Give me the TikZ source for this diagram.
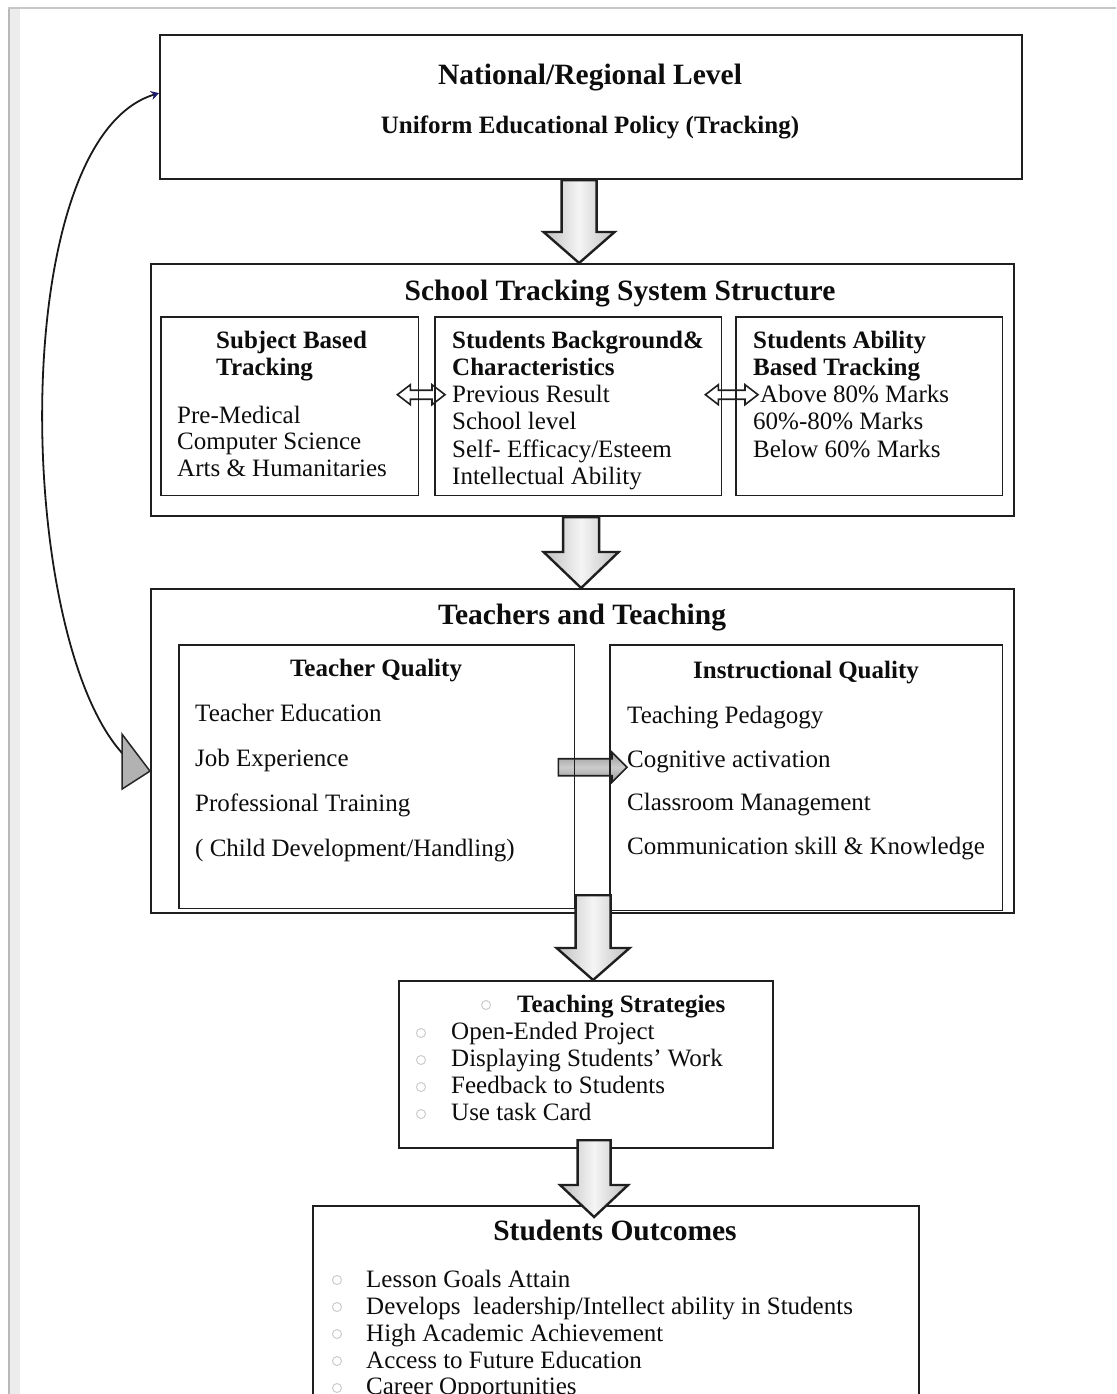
\documentclass[tikz,border=0pt]{standalone}
\usepackage{fontspec}
\setmainfont{Liberation Serif}
\usetikzlibrary{calc,arrows.meta}
\definecolor{navy}{RGB}{25,25,110}
\newcommand\blockdown[5]{% #1 top, #2 tip, #3 half shaft, #4 half head, #5 head length
  \path[blk] let \p1=(#1), \p2=(#2) in
   ({\x2-#3pt},\y1) -- ({\x2+#3pt},\y1) -- ({\x2+#3pt},{\y2+#5pt}) -- ({\x2+#4pt},{\y2+#5pt})
   -- (\x2,\y2) -- ({\x2-#4pt},{\y2+#5pt}) -- ({\x2-#3pt},{\y2+#5pt}) -- cycle;}
\newcommand\blockright[5]{% #1 start, #2 tip
  \path[hblk] let \p1=(#1), \p2=(#2) in
   (\x1,{\y2+#3pt}) -- ({\x2-#5pt},{\y2+#3pt}) -- ({\x2-#5pt},{\y2+#4pt}) -- (\x2,\y2)
   -- ({\x2-#5pt},{\y2-#4pt}) -- ({\x2-#5pt},{\y2-#3pt}) -- (\x1,{\y2-#3pt}) -- cycle;}
\newcommand\dblarrow[2]{%
  \path[hollow] let \p1=(#1), \p2=(#2) in
   (\x1,\y1) -- ({\x1+13pt},{\y1+10pt}) -- ({\x1+13pt},{\y1+4.5pt}) -- ({\x2-13pt},{\y1+4.5pt})
   -- ({\x2-13pt},{\y1+10pt}) -- (\x2,\y1) -- ({\x2-13pt},{\y1-10pt}) -- ({\x2-13pt},{\y1-4.5pt})
   -- ({\x1+13pt},{\y1-4.5pt}) -- ({\x1+13pt},{\y1-10pt}) -- cycle;}
\begin{document}
\begin{tikzpicture}[x=1pt,y=-1pt,
  box/.style={draw=black!88, line width=2.2pt, fill=white, inner sep=0, anchor=north west, rectangle},
  sub/.style={inner sep=0, anchor=north west, rectangle},
  subline/.style={draw=black!88, line width=1.8pt},
  t/.style={anchor=base west, inner sep=0, text=black!95, font=\fontsize{25}{27}\selectfont},
  tb/.style={anchor=base west, inner sep=0, text=black!95, font=\fontsize{25}{27}\selectfont\bfseries},
  tbc/.style={tb, anchor=base},
  hd/.style={anchor=base, inner sep=0, text=black!95, font=\fontsize{29.5}{32}\selectfont\bfseries},
  bul/.style={draw=gray!40, line width=1pt, circle, minimum size=9pt, inner sep=0},
  blk/.style={draw=black!88, line width=2.4pt, left color=gray!50, right color=gray!50, middle color=gray!8},
  hblk/.style={draw=black!88, line width=1.6pt, top color=gray!80, bottom color=gray!80, middle color=gray!40},
  hollow/.style={draw=black!88, line width=1.6pt, fill=white}]
\useasboundingbox (0,0) rectangle (1116,1394);
\clip (0,0) rectangle (1116,1394);
\fill[white] (0,0) rectangle (1116,1394);
% page frame
\fill[gray!15] (8,8) rectangle (20,1394);
\draw[gray!55, line width=1.5pt] (9,8) -- (9,1394);
\draw[gray!45, line width=1.2pt] (8,8) -- (1116,8);

% ---- Box 1
\node[box, minimum width=862pt, minimum height=144pt] (b1) at (159,34) {};
\node[hd] (h1) at (590,85) {National/Regional Level};
\node[tbc] (h1b) at (590,133) {Uniform Educational Policy (Tracking)};

% ---- Box 2
\node[box, minimum width=863pt, minimum height=252pt] (b2) at (150,263) {};
\node[hd] (h2) at (620,300) {School Tracking System Structure};
\node[sub, minimum width=257pt, minimum height=178pt] (sa) at (161,317) {};
\node[sub, minimum width=286pt, minimum height=178pt] (sb) at (435,317) {};
\node[sub, minimum width=266pt, minimum height=178pt] (sc) at (736,317) {};
\dblarrow{[shift={(-21pt,11.5pt)}]sa.east}{[shift={(10pt,11.5pt)}]sb.west}
\dblarrow{[shift={(-16pt,11.5pt)}]sb.east}{[shift={(22pt,11.5pt)}]sc.west}
\draw[subline] (sa.north west) rectangle (sa.south east);
\draw[subline] (sb.north west) rectangle (sb.south east);
\draw[subline] (sc.north west) rectangle (sc.south east);
\node[tb] (sa1) at (216,348) {Subject Based};
\node[tb] (sa2) at (216,375) {Tracking};
\node[t] (sa3) at (177,423) {Pre-Medical};
\node[t] (sa4) at (177,449) {Computer Science};
\node[t] (sa5) at (177,476) {Arts \& Humanitaries};
\node[tb] (sb1) at (452,348) {Students Background\&};
\node[tb] (sb2) at (452,375) {Characteristics};
\node[t] (sb3) at (452,402) {Previous Result};
\node[t] (sb4) at (452,429) {School level};
\node[t] (sb5) at (452,457) {Self- Efficacy/Esteem};
\node[t] (sb6) at (452,484) {Intellectual Ability};
\node[tb] (sc1) at (753,348) {Students Ability};
\node[tb] (sc2) at (753,375) {Based Tracking};
\node[t] (sc3) at (760,402) {Above 80\% Marks};
\node[t] (sc4) at (753,429) {60\%-80\% Marks};
\node[t] (sc5) at (753,457) {Below 60\% Marks};

% ---- Box 3
\node[box, minimum width=863pt, minimum height=324pt] (b3) at (150,588) {};
\node[hd] (h3) at (582,624) {Teachers and Teaching};
\node[sub, minimum width=395pt, minimum height=263pt] (tq) at (179,645) {};
\node[sub, minimum width=392pt, minimum height=265pt] (iq) at (610,645) {};
\blockright{[xshift=-16pt]tq.east}{[shift={(17pt,10.5pt)}]iq.west}{8.5}{15}{15}
\draw[subline] (tq.north west) rectangle (tq.south east);
\draw[subline] (iq.north west) rectangle (iq.south east);
\node[tbc] (tq0) at (376,676) {Teacher Quality};
\node[t] (tq1) at (195,721) {Teacher Education};
\node[t] (tq2) at (195,766) {Job Experience};
\node[t] (tq3) at (195,811) {Professional Training};
\node[t] (tq4) at (195,856) {( Child Development/Handling)};
\node[tbc] (iq0) at (806,678) {Instructional Quality};
\node[t] (iq1) at (627,723) {Teaching Pedagogy};
\node[t] (iq2) at (627,767) {Cognitive activation};
\node[t] (iq3) at (627,810) {Classroom Management};
\node[t] (iq4) at (627,854) {Communication skill \& Knowledge};

% ---- Box 4
\node[box, minimum width=374pt, minimum height=167pt] (b4) at (398,980) {};
\node[bul] (c40) at (486,1005) {};
\node[tb] (s0) at (517,1012) {Teaching Strategies};
\node[bul] (c41) at (421,1033) {};
\node[t] (s1) at (451,1039) {Open-Ended Project};
\node[bul] (c42) at (421,1060) {};
\node[t] (s2) at (451,1066) {Displaying Students' Work};
\node[bul] (c43) at (421,1087) {};
\node[t] (s3) at (451,1093) {Feedback to Students};
\node[bul] (c44) at (421,1114) {};
\node[t] (s4) at (451,1120) {Use task Card};

% ---- Box 5
\node[box, minimum width=606pt, minimum height=250pt] (b5) at (312,1205) {};
\node[hd] (h5) at (615,1240) {Students Outcomes};
\node[bul] (c51) at (337,1280) {};
\node[t] (o1) at (366,1287) {Lesson Goals Attain};
\node[bul] (c52) at (337,1307) {};
\node[t] (o2) at (366,1314) {Develops\ \ leadership/Intellect ability in Students};
\node[bul] (c53) at (337,1334) {};
\node[t] (o3) at (366,1341) {High Academic Achievement};
\node[bul] (c54) at (337,1361) {};
\node[t] (o4) at (366,1368) {Access to Future Education};
\node[bul] (c55) at (337,1388) {};
\node[t] (o5) at (366,1394) {Career Opportunities};

% ---- Block arrows
\blockdown{b1.south}{[xshift=-3.5pt]b2.north}{17.5}{35.5}{31}
\blockdown{b2.south}{[xshift=-1.5pt]b3.north}{18}{37.5}{36}
\blockdown{[yshift=19pt]b3.south}{[xshift=7pt]b4.north}{17.5}{36.5}{32}
\blockdown{[yshift=9pt]b4.south}{[shift={(-22pt,-12pt)}]b5.north}{16.5}{34}{32}

% ---- Feedback curve
\coordinate (ctip) at ([yshift=-20pt]b3.west);
\coordinate (ctop) at ([yshift=14pt]b1.west);
\draw[line width=1.8pt, black!90, -{Stealth[length=8pt,width=9pt,color=navy]}]
  ($(ctip)+(-26,-16)$) .. controls (15,640) and (5,140) .. (ctop);
\filldraw[fill=gray!60, draw=black!85, line width=1.5pt]
  (ctip) -- ($(ctip)+(-28,-37)$) -- ($(ctip)+(-28,18)$) -- cycle;
\end{tikzpicture}
\end{document}
